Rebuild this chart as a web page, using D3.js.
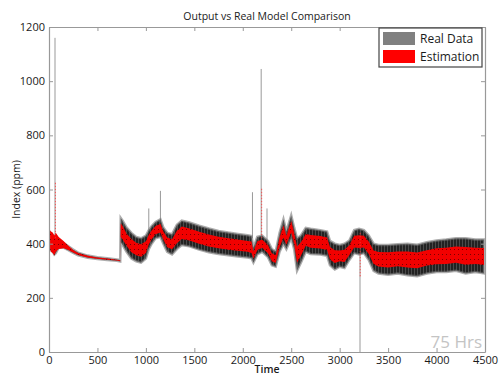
<!DOCTYPE html>
<html>
<head>
<meta charset="utf-8">
<script src="https://cdn.jsdelivr.net/npm/d3@7"></script>
<style>
  body { margin: 0; background: #fff; }
  text { font-family: "Open Sans", sans-serif; }
</style>
</head>
<body>
<div id="chart"></div>
<script>
// sample times of the envelope
const timePts = [0, 20, 40, 55, 70, 100, 150, 200, 250, 300, 400, 500, 600, 700, 735,
  740, 760, 800, 850, 900, 950, 1000, 1030, 1060, 1100, 1150, 1180, 1220, 1270, 1320, 1370,
  1450, 1550, 1650, 1750, 1850, 1950, 2050, 2090,
  2110, 2150, 2200, 2260, 2300, 2340, 2380, 2420, 2450, 2500, 2530, 2560, 2600, 2650, 2700,
  2800, 2870, 2900, 2950, 3000, 3050, 3100, 3150, 3200, 3250, 3300, 3350, 3400, 3500, 3600,
  3700, 3800, 3900, 4000, 4100, 4200, 4300, 4400, 4490];

// real data band (low / high of the oscillation)
const realLow = [385, 375, 370, 360, 365, 385, 385, 376, 366, 357, 348, 343, 340, 337, 334,
  405, 395, 370, 345, 335, 330, 345, 380, 400, 420, 425, 400, 370, 360, 380, 395,
  390, 378, 368, 362, 357, 353, 349, 346,
  330, 360, 370, 350, 320, 315, 370, 400, 380, 420, 380, 300, 330, 370, 362,
  360, 355, 320, 305, 315, 310, 340, 365, 360, 365, 340, 300, 290, 285, 290,
  283, 280, 290, 295, 295, 300, 290, 295, 290];
const realHigh = [445, 440, 430, 420, 430, 415, 402, 390, 378, 367, 356, 350, 346, 342, 340,
  495, 485, 460, 440, 425, 420, 430, 450, 465, 480, 490, 460, 440, 435, 470, 485,
  478, 466, 456, 447, 441, 436, 431, 428,
  385, 425, 430, 410, 380, 372, 440, 490, 445, 505, 460, 420, 430, 458, 455,
  450, 445, 410, 400, 395, 400, 412, 450, 455, 450, 430, 400, 395, 395, 398,
  400, 396, 405, 412, 415, 420, 420, 415, 415];

// estimation band
const estLow = [390, 370, 365, 355, 370, 380, 383, 377, 367, 358, 349, 344, 341, 338, 335,
  425, 415, 392, 368, 357, 352, 366, 397, 416, 435, 441, 415, 387, 379, 402, 417,
  412, 400, 390, 383, 378, 374, 370, 366,
  344, 376, 385, 365, 335, 329, 387, 422, 396, 441, 400, 330, 355, 392, 385,
  382, 377, 342, 329, 335, 332, 358, 386, 384, 386, 362, 325, 316, 312, 317,
  312, 309, 319, 324, 325, 330, 322, 325, 321];
const estHigh = [455, 445, 440, 430, 440, 425, 410, 392, 377, 366, 355, 349, 345, 341, 339,
  475, 465, 438, 417, 403, 398, 409, 433, 449, 465, 474, 445, 423, 416, 448, 463,
  456, 444, 434, 426, 420, 415, 410, 408,
  371, 409, 415, 395, 365, 358, 423, 468, 429, 484, 440, 390, 405, 436, 432,
  428, 423, 388, 376, 375, 378, 394, 429, 431, 429, 408, 375, 369, 368, 371,
  371, 367, 376, 383, 385, 390, 388, 385, 384];

// isolated spikes: [time, from, to]
const realSpikes = [[62, 400, 1160], [1030, 440, 530], [1150, 470, 595],
  [2100, 420, 590], [2190, 420, 1045], [2250, 410, 530], [3210, 360, 0]];
const estSpikes = [[66, 420, 628], [2195, 420, 608], [3212, 440, 275]];

const xTicks = [0, 500, 1000, 1500, 2000, 2500, 3000, 3500, 4000, 4500];
const yTicks = [0, 200, 400, 600, 800, 1000, 1200];
const legendItems = [{ name: "Real Data", color: "#808080" }, { name: "Estimation", color: "#ff0000" }];

const W = 500, H = 376;
const margin = { top: 27, right: 15, bottom: 24, left: 49 };
const width = W - margin.left - margin.right;
const height = H - margin.top - margin.bottom;

const svg = d3.select("#chart").append("svg")
  .attr("width", W).attr("height", H);

const defs = svg.append("defs");
// vertical striations for the dense real signal
const pReal = defs.append("pattern").attr("id", "realTex")
  .attr("patternUnits", "userSpaceOnUse").attr("width", 3).attr("height", 6);
pReal.append("rect").attr("width", 3).attr("height", 6).attr("fill", "#222");
pReal.append("rect").attr("x", 2).attr("width", 1).attr("height", 6).attr("fill", "#4a4a4a");
// red with dark specks
const pEst = defs.append("pattern").attr("id", "estTex")
  .attr("patternUnits", "userSpaceOnUse").attr("width", 4).attr("height", 5);
pEst.append("rect").attr("width", 4).attr("height", 5).attr("fill", "#f20000");
pEst.append("rect").attr("x", 1).attr("y", 2).attr("width", 1).attr("height", 1).attr("fill", "#700");

const g = svg.append("g").attr("transform", `translate(${margin.left},${margin.top})`);

const x = d3.scaleLinear().domain([0, 4500]).range([0, width]);
const y = d3.scaleLinear().domain([0, 1200]).range([height, 0]);

// clip to plot box
defs.append("clipPath").attr("id", "clip").append("rect")
  .attr("width", width).attr("height", height);
const plot = g.append("g").attr("clip-path", "url(#clip)");

const idx = d3.range(timePts.length);

const realArea = d3.area()
  .x(i => x(timePts[i])).y0(i => y(realLow[i])).y1(i => y(realHigh[i]));
const estArea = d3.area()
  .x(i => x(timePts[i])).y0(i => y(estLow[i])).y1(i => y(estHigh[i]));

// spikes of real data
plot.selectAll(".rspike").data(realSpikes).enter().append("line")
  .attr("class", "rspike")
  .attr("x1", d => x(d[0])).attr("x2", d => x(d[0]))
  .attr("y1", d => y(d[1])).attr("y2", d => y(d[2]))
  .attr("stroke", "#999").attr("stroke-width", 1);

plot.append("path").datum(idx)
  .attr("d", realArea)
  .attr("fill", "url(#realTex)")
  .attr("stroke", "#777").attr("stroke-width", 2.5).attr("stroke-opacity", 0.6);

plot.append("path").datum(idx)
  .attr("d", estArea)
  .attr("fill", "url(#estTex)");

plot.selectAll(".espike").data(estSpikes).enter().append("line")
  .attr("class", "espike")
  .attr("x1", d => x(d[0])).attr("x2", d => x(d[0]))
  .attr("y1", d => y(d[1])).attr("y2", d => y(d[2]))
  .attr("stroke", "#f33").attr("stroke-width", 1)
  .attr("stroke-dasharray", "1.5,1.5").attr("opacity", 0.8);

// frame and ticks on all four sides (pointing inward)
const axisColor = "#999";
const fmt = d3.format("d");
const axB = g.append("g").attr("transform", `translate(0,${height})`)
  .call(d3.axisBottom(x).tickValues(xTicks).tickFormat(fmt).tickSizeInner(-4).tickSizeOuter(0).tickPadding(4));
const axL = g.append("g")
  .call(d3.axisLeft(y).tickValues(yTicks).tickFormat(fmt).tickSizeInner(-4).tickSizeOuter(0).tickPadding(4));
const axT = g.append("g")
  .call(d3.axisTop(x).tickValues(xTicks).tickSizeInner(-4).tickSizeOuter(0).tickFormat(""));
const axR = g.append("g").attr("transform", `translate(${width},0)`)
  .call(d3.axisRight(y).tickValues(yTicks).tickSizeInner(-4).tickSizeOuter(0).tickFormat(""));
[axB, axL, axT, axR].forEach(a => {
  a.select(".domain").attr("stroke", axisColor).attr("stroke-width", 1.2);
  a.selectAll(".tick line").attr("stroke", axisColor);
  a.selectAll(".tick text").attr("fill", "#1a1a1a").attr("font-size", "11px")
    .attr("font-family", "Open Sans, sans-serif");
});

// watermark
g.append("text")
  .attr("x", width - 3).attr("y", height - 4)
  .attr("text-anchor", "end")
  .attr("fill", "#c4c4c4").attr("font-size", "17px")
  .text("75 Hrs");

// title and axis labels
svg.append("text")
  .attr("x", margin.left + width / 2).attr("y", 20)
  .attr("text-anchor", "middle").attr("font-size", "10.5px").attr("fill", "#1a1a1a")
  .text("Output vs Real Model Comparison");
svg.append("text")
  .attr("x", margin.left + width / 2).attr("y", 373)
  .attr("text-anchor", "middle").attr("font-size", "10.5px").attr("fill", "#1a1a1a")
  .attr("font-weight", 600)
  .text("Time");
svg.append("text")
  .attr("transform", `translate(20,${margin.top + height / 2}) rotate(-90)`)
  .attr("text-anchor", "middle").attr("font-size", "10.5px").attr("fill", "#1a1a1a")
  .text("Index (ppm)");

// legend
const lg = g.append("g").attr("transform", `translate(${width - 106},1)`);
lg.append("rect").attr("width", 103).attr("height", 39)
  .attr("fill", "#fff").attr("stroke", "#444").attr("stroke-width", 1.2);
lg.selectAll(".item").data(legendItems).enter().append("g")
  .attr("class", "item")
  .attr("transform", (d, i) => `translate(4,${4 + i * 18})`)
  .each(function (d) {
    const it = d3.select(this);
    it.append("rect").attr("width", 32).attr("height", 13).attr("fill", d.color);
    it.append("text").attr("x", 37).attr("y", 11)
      .attr("font-size", "12px").attr("fill", "#1a1a1a").text(d.name);
  });
</script>
</body>
</html>
